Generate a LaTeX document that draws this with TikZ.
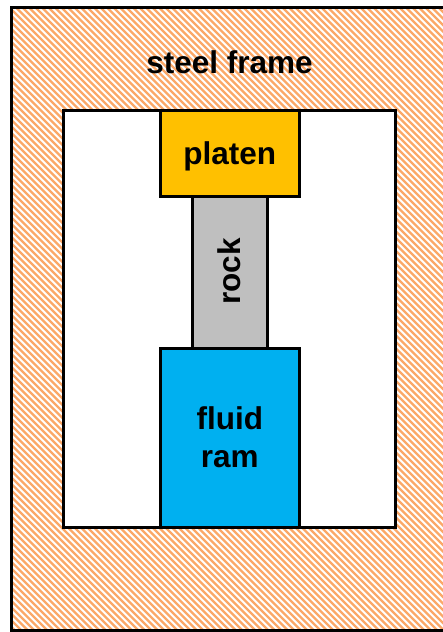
\documentclass[tikz,border=0pt]{standalone}
\usepackage{fontspec}
\setmainfont{Liberation Sans}
\definecolor{hatchc}{HTML}{FBA868}
\definecolor{platenc}{HTML}{FFC000}
\definecolor{rockc}{HTML}{BFBFBF}
\definecolor{ramc}{HTML}{00B0F0}
\tikzset{
  x=1pt,y=-1pt,
  part/.style={draw=black,line width=3pt,anchor=north west,inner sep=0pt,outer sep=0pt,align=center,font=\bfseries\fontsize{31.5}{38}\selectfont,text=black},
  edge/.style={draw=black,line width=3pt,line join=miter},
  lab/.style={font=\bfseries\fontsize{31.5}{36}\selectfont,text=black}
}
\begin{document}
\begin{tikzpicture}
\useasboundingbox (0,0) rectangle (443,632);
\fill[white] (0,0) rectangle (443,632);
\begin{scope}
\clip (11.5,7.5) rectangle (443,630);
\foreach \i in {-110,...,190}{
  \draw[hatchc,line width=2.3pt] ({\i*6.5-700},0) -- ({\i*6.5},700);
}
\end{scope}
\coordinate (tl) at (11.5,7.5);
\coordinate (tr) at (444,7.5);
\coordinate (bl) at (11.5,630.5);
\coordinate (br) at (444,630.5);
\draw[edge] (tr) -- (tl) -- (bl) -- (br);
\node[part,fill=white,minimum width=332.5pt,minimum height=417pt] (cavity) at (63,110) {};
\node[lab] (frame) at (229.5,62) {steel frame};
\node[part,fill=rockc,minimum width=75pt,minimum height=155pt] (rock) at (192.5,195) {};
\node[lab,rotate=90] (rocklabel) at (229.5,271.5) {rock};
\node[part,fill=platenc,minimum width=139.5pt,minimum height=86pt] (platen) at (160,110) {\raisebox{-3pt}[\height][\depth]{platen}};
\node[part,fill=ramc,minimum width=139.5pt,minimum height=179pt] (ram) at (160,348) {fluid\\ram};
\end{tikzpicture}
\end{document}
